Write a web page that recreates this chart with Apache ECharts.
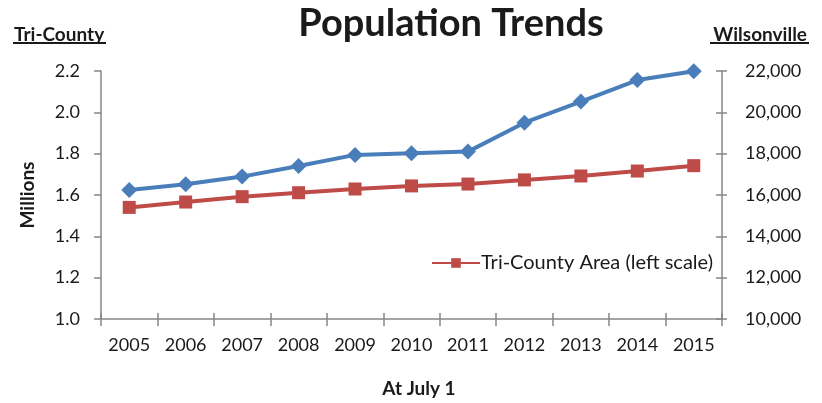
<!DOCTYPE html>
<html>
<head>
<meta charset="utf-8">
<script src="https://cdn.jsdelivr.net/npm/echarts@6/dist/echarts.min.js"></script>
<style>
  html, body { margin: 0; padding: 0; background: #fff; }
  #chart { width: 822px; height: 403px; }
</style>
</head>
<body>
<div id="chart"></div>
<script>
// Population as of July 1 each year
const years = ['2005', '2006', '2007', '2008', '2009', '2010', '2011', '2012', '2013', '2014', '2015'];
// Tri-County area, millions (left scale)
const triCounty = [1.540, 1.566, 1.592, 1.611, 1.629, 1.644, 1.653, 1.673, 1.692, 1.716, 1.742];
// Wilsonville, persons (right scale)
const wilsonville = [16240, 16520, 16890, 17400, 17940, 18020, 18100, 19500, 20520, 21560, 21990];

const FONT = 'Lato, "Open Sans", sans-serif';
const AXIS_GREY = '#868686';
const TEXT = '#1a1a1a';

const chart = echarts.init(document.getElementById('chart'), null, { renderer: 'canvas' });

chart.setOption({
  animation: false,
  backgroundColor: '#ffffff',
  textStyle: { fontFamily: FONT },
  title: [
    {
      text: 'Population Trends',
      left: 446, top: 0, textAlign: 'center',
      textStyle: { fontFamily: FONT, fontSize: 38, fontWeight: 'bold', color: TEXT }
    },
    {
      text: 'Tri-County',
      left: 9, top: 20,
      textStyle: { fontFamily: FONT, fontSize: 19, fontWeight: 'bold', color: TEXT }
    },
    {
      text: 'Wilsonville',
      right: 10, top: 20,
      textStyle: { fontFamily: FONT, fontSize: 19, fontWeight: 'bold', color: TEXT }
    }
  ],
  graphic: [
    // underlines beneath the two scale headings
    { type: 'line', shape: { x1: 13, y1: 43, x2: 106, y2: 43 }, style: { stroke: TEXT, lineWidth: 2 } },
    { type: 'line', shape: { x1: 710, y1: 43, x2: 809, y2: 43 }, style: { stroke: TEXT, lineWidth: 2 } }
  ],
  legend: {
    data: ['Tri-County Area (left scale)'],
    left: 426, top: 248,
    itemWidth: 48, itemHeight: 12, itemGap: 0,
    textStyle: { fontFamily: FONT, fontSize: 20, color: TEXT, padding: [0, 0, 0, -4] }
  },
  grid: { left: 101, right: 100, top: 71, bottom: 84 },
  xAxis: [
    {
      type: 'category',
      data: years,
      boundaryGap: true,
      name: 'At July 1',
      nameLocation: 'middle',
      nameGap: 60,
      nameTextStyle: { fontFamily: FONT, fontSize: 19, fontWeight: 'bold', color: TEXT, padding: [0, 0, 0, 15] },
      axisLine: { show: true, lineStyle: { color: AXIS_GREY, width: 1.5 } },
      axisTick: { show: true, inside: false, length: 7, lineStyle: { color: AXIS_GREY, width: 1.5 } },
      axisLabel: { fontFamily: FONT, fontSize: 18, color: TEXT, margin: 17 },
      splitLine: { show: false }
    },
    {
      // inner half of the crossing tick marks
      type: 'category',
      data: years,
      boundaryGap: true,
      position: 'bottom',
      axisLine: { show: false },
      axisTick: { show: true, inside: true, length: 6, lineStyle: { color: AXIS_GREY, width: 1.5 } },
      axisLabel: { show: false },
      splitLine: { show: false }
    }
  ],
  yAxis: [
    {
      type: 'value',
      min: 1.0, max: 2.2, interval: 0.2,
      position: 'left',
      name: 'Millions',
      nameLocation: 'middle',
      nameGap: 64,
      nameRotate: 90,
      nameTextStyle: { fontFamily: FONT, fontSize: 19, fontWeight: 'bold', color: TEXT },
      axisLine: { show: true, lineStyle: { color: AXIS_GREY, width: 1.5 } },
      axisTick: { show: true, length: 7, lineStyle: { color: AXIS_GREY, width: 1.5 } },
      axisLabel: { fontFamily: FONT, fontSize: 18, color: TEXT, margin: 21, formatter: v => v.toFixed(1) },
      splitLine: { show: false }
    },
    {
      type: 'value',
      min: 10000, max: 22000, interval: 2000,
      position: 'right',
      axisLine: { show: true, lineStyle: { color: AXIS_GREY, width: 1.5 } },
      axisTick: { show: true, length: 5, lineStyle: { color: AXIS_GREY, width: 1.5 } },
      axisLabel: { fontFamily: FONT, fontSize: 18, color: TEXT, margin: 23, formatter: v => v.toLocaleString('en-US') },
      splitLine: { show: false }
    },
    {
      // inner half of the right-hand crossing tick marks
      type: 'value',
      min: 10000, max: 22000, interval: 2000,
      position: 'right',
      axisLine: { show: false },
      axisTick: { show: true, inside: true, length: 6, lineStyle: { color: AXIS_GREY, width: 1.5 } },
      axisLabel: { show: false },
      splitLine: { show: false }
    }
  ],
  series: [
    {
      name: 'Wilsonville (right scale)',
      type: 'line',
      yAxisIndex: 1,
      data: wilsonville,
      symbol: 'diamond',
      symbolSize: 16,
      lineStyle: { color: '#4A7EBB', width: 4 },
      itemStyle: { color: '#4A7EBB' },
      z: 3
    },
    {
      name: 'Tri-County Area (left scale)',
      type: 'line',
      yAxisIndex: 0,
      data: triCounty,
      symbol: 'rect',
      symbolSize: 13,
      lineStyle: { color: '#BE4B48', width: 4 },
      itemStyle: { color: '#BE4B48' },
      z: 3
    }
  ]
});
</script>
</body>
</html>
